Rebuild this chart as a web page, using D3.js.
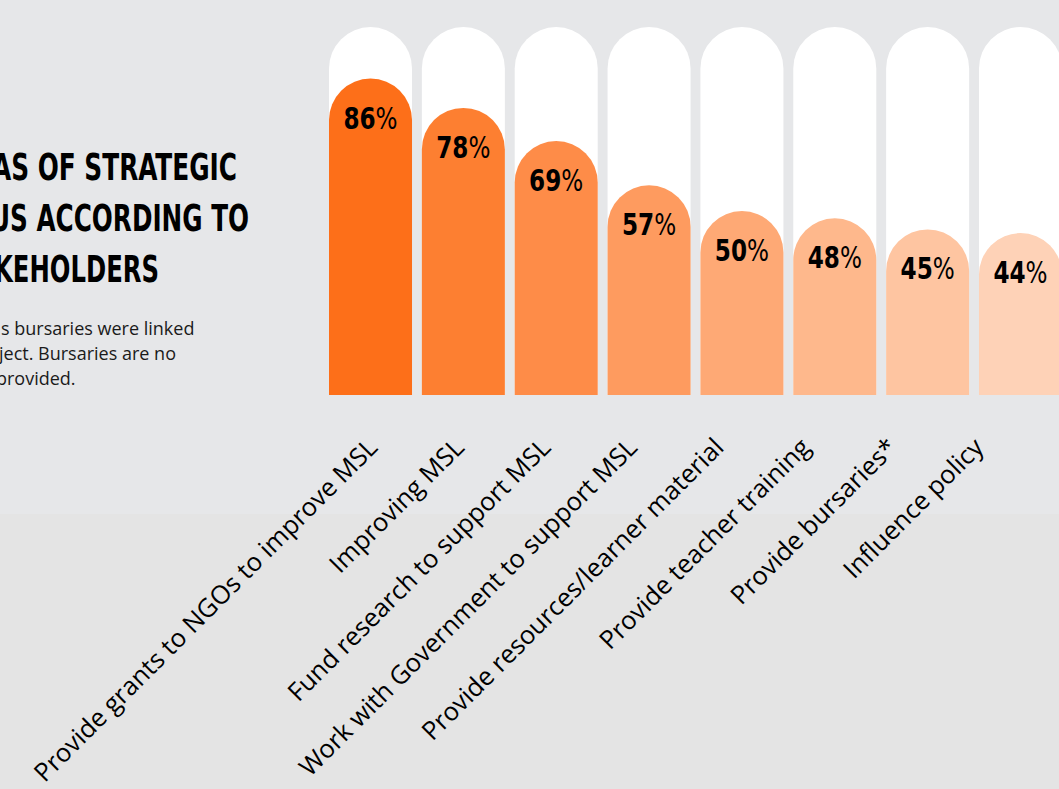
<!DOCTYPE html>
<html>
<head>
<meta charset="utf-8">
<script src="https://cdn.jsdelivr.net/npm/d3@7"></script>
<style>
  html, body { margin: 0; padding: 0; background: #e6e7e8; overflow: hidden; }
  svg { display: block; }
</style>
</head>
<body>
<svg id="chart"></svg>
<script>
// chart data
const categories = [
  "Provide grants to NGOs to improve MSL",
  "Improving MSL",
  "Fund research to support MSL",
  "Work with Government to support MSL",
  "Provide resources/learner material",
  "Provide teacher training",
  "Provide bursaries*",
  "Influence policy"
];
const values = [86, 78, 69, 57, 50, 48, 45, 44];
const titleLines = ["AS OF STRATEGIC", "US ACCORDING TO", "KEHOLDERS"];
const noteLines = ["s bursaries were linked", "ject. Bursaries are no", "provided."];

const barColors = ["#fd6f19", "#fd7f31", "#fe8c48", "#fe9b5f", "#fea975", "#feb88c", "#fec5a1", "#fed2b7"];

const w = 1059;
const h = 789;

const svg = d3.select("#chart").attr("width", w).attr("height", h);

// background, slightly lighter on top
svg.append("rect").attr("width", w).attr("height", h).attr("fill", "#e4e4e4");
svg.append("rect").attr("width", w).attr("height", 514).attr("fill", "#e6e7e9");

const condensed = "'DejaVu Sans Condensed', 'Liberation Sans Narrow', sans-serif";
const regular = "'Open Sans', 'Noto Sans', sans-serif";

const x = d3.scaleBand()
  .domain(categories)
  .range([329, 1062])
  .paddingInner(0.106)
  .paddingOuter(0);

const y = d3.scaleLinear().domain([0, 100]).range([395, 27]);

// label positions sit on a slightly tighter spacing than the bars
const xLabel = d3.scalePoint().domain(categories).range([379, 985]);

// rectangle with a half circle on top
function roundTop(x0, top, bw, bottom) {
  const r = bw / 2;
  return "M" + x0 + "," + bottom +
    "V" + (top + r) +
    "A" + r + "," + r + " 0 0 1 " + (x0 + bw) + "," + (top + r) +
    "V" + bottom + "Z";
}

function cx(i) {
  return x(categories[i]) + x.bandwidth() / 2;
}

const bars = svg.selectAll("g.bar")
  .data(values)
  .enter()
  .append("g")
  .attr("class", "bar");

// white track = 100%
bars.append("path")
  .attr("d", function (d, i) {
    return roundTop(x(categories[i]), y(100), x.bandwidth(), y(0));
  })
  .attr("fill", "#ffffff");

// value bar
bars.append("path")
  .attr("d", function (d, i) {
    return roundTop(x(categories[i]), y(d), x.bandwidth(), y(0));
  })
  .attr("fill", function (d, i) { return barColors[i]; });

// value label: bold number + regular percent sign, squeezed to look condensed
const vl = bars.append("text")
  .attr("transform", function (d, i) {
    return "translate(" + cx(i) + "," + (y(d) + 50) + ") scale(0.83,1)";
  })
  .attr("text-anchor", "middle")
  .attr("font-family", condensed)
  .attr("font-size", "31px")
  .attr("fill", "#000");
vl.append("tspan").attr("font-weight", "bold").text(function (d) { return d; });
vl.append("tspan").text("%");

// category labels, rotated
svg.selectAll("text.cat")
  .data(categories)
  .enter()
  .append("text")
  .attr("class", "cat")
  .attr("transform", function (d) {
    return "translate(" + xLabel(d) + ",449) rotate(-45)";
  })
  .attr("text-anchor", "end")
  .attr("font-family", regular)
  .attr("font-size", "25.5px")
  .attr("fill", "#000")
  .text(function (d) { return d; });

// title (cut off by the left edge)
svg.selectAll("text.title")
  .data(titleLines)
  .enter()
  .append("text")
  .attr("class", "title")
  .attr("x", function (d, i) { return [-8, -10, -6][i]; })
  .attr("y", function (d, i) { return [180, 231, 282][i]; })
  .attr("textLength", function (d, i) { return [245, 259, 165][i]; })
  .attr("lengthAdjust", "spacingAndGlyphs")
  .attr("font-family", condensed)
  .attr("font-weight", "bold")
  .attr("font-size", "38px")
  .attr("fill", "#000")
  .text(function (d) { return d; });

// note under title
svg.selectAll("text.note")
  .data(noteLines)
  .enter()
  .append("text")
  .attr("class", "note")
  .attr("x", function (d, i) { return [1, -1, -4][i]; })
  .attr("y", function (d, i) { return 335 + i * 25; })
  .attr("font-family", regular)
  .attr("font-size", "18px")
  .attr("fill", "#1a1a1a")
  .text(function (d) { return d; });
</script>
</body>
</html>
